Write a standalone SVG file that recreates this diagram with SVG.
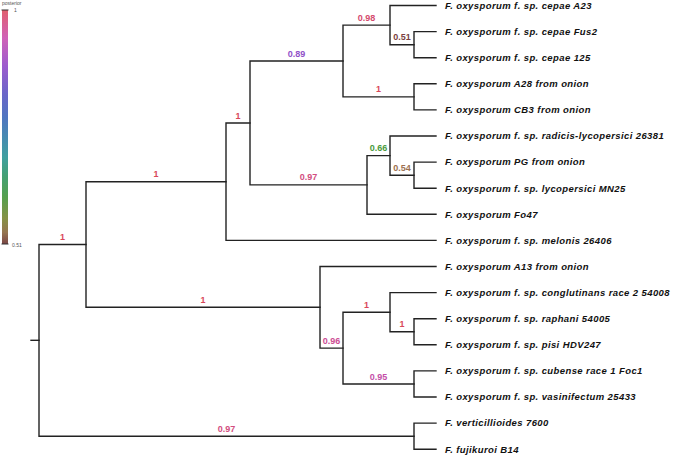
<svg xmlns="http://www.w3.org/2000/svg" width="675" height="458" viewBox="0 0 675 458">
<defs>
<linearGradient id="post" x1="0" y1="0" x2="0" y2="1">
<stop offset="0" stop-color="#e0606e"/>
<stop offset="0.12" stop-color="#d062b8"/>
<stop offset="0.24" stop-color="#9c5cce"/>
<stop offset="0.36" stop-color="#6a66c8"/>
<stop offset="0.46" stop-color="#5076c0"/>
<stop offset="0.55" stop-color="#468cb0"/>
<stop offset="0.63" stop-color="#40a0a0"/>
<stop offset="0.71" stop-color="#44a074"/>
<stop offset="0.80" stop-color="#56a04e"/>
<stop offset="0.89" stop-color="#869246"/>
<stop offset="0.95" stop-color="#967650"/>
<stop offset="1" stop-color="#7a4646"/>
</linearGradient>
</defs>
<style>
.br{fill:none;stroke:#222;stroke-width:1.4;stroke-linecap:square;stroke-linejoin:miter}
.tip{font-family:"Liberation Sans",Arial,sans-serif;font-size:9.5px;font-weight:bold;font-style:italic;letter-spacing:0.4px;fill:#111}
.sup{font-family:"Liberation Sans",Arial,sans-serif;font-size:9px;font-weight:bold;text-anchor:middle}
.leg{font-family:"Liberation Sans",Arial,sans-serif;font-size:5px;fill:#555}
.p100{fill:#d9475a}.p098{fill:#d44a6e}.p097{fill:#d24d80}.p096{fill:#cc4c94}.p095{fill:#c44fa8}
.p089{fill:#9050c8}.p066{fill:#4a9a3c}.p054{fill:#9c7050}.p051{fill:#7a3f3f}
</style>
<rect width="675" height="458" fill="#fff"/>
<g id="legend">
<text class="leg" x="2" y="5">posterior</text>
<rect x="2" y="10" width="6" height="234" fill="url(#post)"/>
<path d="M1.5 10H8.5M1.5 244H8.5" stroke="#333" stroke-width="1"/>
<text class="leg" x="14" y="11.5">1</text>
<text class="leg" x="12" y="246.5">0.51</text>
</g>
<g id="connectors">
<path class="br" d="M31 340.3H39"/>
<path class="br" d="M86 244.5H39V436.2H414"/>
<path class="br" d="M226 181.7H86V307.3H320"/>
<path class="br" d="M250 123H226V240.4H436"/>
<path class="br" d="M343 61H250V184.9H367"/>
<path class="br" d="M390 25.1H343V96.9H414"/>
<path class="br" d="M436 5.5H390V44.7H414"/>
<path class="br" d="M436 31.6H414V57.7H436"/>
<path class="br" d="M436 83.8H414V109.9H436"/>
<path class="br" d="M390 155.6H367V214.3H436"/>
<path class="br" d="M436 136H390V175.2H414"/>
<path class="br" d="M436 162.1H414V188.2H436"/>
<path class="br" d="M436 266.5H320V348.1H343"/>
<path class="br" d="M390 312.2H343V384H414"/>
<path class="br" d="M436 292.6H390V331.8H414"/>
<path class="br" d="M436 318.7H414V344.8H436"/>
<path class="br" d="M436 370.9H414V397H436"/>
<path class="br" d="M436 423.1H414V449.2H436"/>
</g>
<g id="supports">
<g id="s-root-a"><text class="sup p100" x="62.5" y="240">1</text></g>
<g id="s-n86-a"><text class="sup p100" x="156" y="177.2">1</text></g>
<g id="s-n86-b"><text class="sup p100" x="203" y="302.8">1</text></g>
<g id="s-n226"><text class="sup p100" x="238" y="118.5">1</text></g>
<g id="s-n343"><text class="sup p089" x="296.5" y="56.5">0.89</text></g>
<g id="s-n367"><text class="sup p097" x="308.5" y="180.4">0.97</text></g>
<g id="s-n390a"><text class="sup p098" x="366.5" y="20.6">0.98</text></g>
<g id="s-n414b"><text class="sup p051" x="402" y="40.2">0.51</text></g>
<g id="s-n414a"><text class="sup p100" x="378.5" y="92.4">1</text></g>
<g id="s-n390b"><text class="sup p066" x="378.5" y="151.1">0.66</text></g>
<g id="s-n414c"><text class="sup p054" x="402" y="170.7">0.54</text></g>
<g id="s-n343b"><text class="sup p096" x="331.5" y="343.6">0.96</text></g>
<g id="s-n390c"><text class="sup p100" x="366.5" y="307.7">1</text></g>
<g id="s-n414d"><text class="sup p100" x="402" y="327.3">1</text></g>
<g id="s-n414e"><text class="sup p095" x="378.5" y="379.5">0.95</text></g>
<g id="s-nvf"><text class="sup p097" x="226.5" y="431.7">0.97</text></g>
</g>
<g id="tips">
<g id="t-a23"><text class="tip" x="445" y="8.8">F. oxysporum f. sp. cepae A23</text></g>
<g id="t-fus2"><text class="tip" x="445" y="34.9">F. oxysporum f. sp. cepae Fus2</text></g>
<g id="t-125"><text class="tip" x="445" y="61">F. oxysporum f. sp. cepae 125</text></g>
<g id="t-a28"><text class="tip" x="445" y="87.1">F. oxysporum A28 from onion</text></g>
<g id="t-cb3"><text class="tip" x="445" y="113.2">F. oxysporum CB3 from onion</text></g>
<g id="t-radicis"><text class="tip" x="445" y="139.3">F. oxysporum f. sp. radicis-lycopersici 26381</text></g>
<g id="t-pg"><text class="tip" x="445" y="165.4">F. oxysporum PG from onion</text></g>
<g id="t-mn25"><text class="tip" x="445" y="191.5">F. oxysporum f. sp. lycopersici MN25</text></g>
<g id="t-fo47"><text class="tip" x="445" y="217.6">F. oxysporum Fo47</text></g>
<g id="t-melonis"><text class="tip" x="445" y="243.7">F. oxysporum f. sp. melonis 26406</text></g>
<g id="t-a13"><text class="tip" x="445" y="269.8">F. oxysporum A13 from onion</text></g>
<g id="t-congl"><text class="tip" x="445" y="295.9">F. oxysporum f. sp. conglutinans race 2 54008</text></g>
<g id="t-raphani"><text class="tip" x="445" y="322">F. oxysporum f. sp. raphani 54005</text></g>
<g id="t-pisi"><text class="tip" x="445" y="348.1">F. oxysporum f. sp. pisi HDV247</text></g>
<g id="t-cubense"><text class="tip" x="445" y="374.2">F. oxysporum f. sp. cubense race 1 Foc1</text></g>
<g id="t-vasin"><text class="tip" x="445" y="400.3">F. oxysporum f. sp. vasinifectum 25433</text></g>
<g id="t-vert"><text class="tip" x="445" y="426.4">F. verticillioides 7600</text></g>
<g id="t-fuji"><text class="tip" x="445" y="452.5">F. fujikuroi B14</text></g>
</g>
</svg>
